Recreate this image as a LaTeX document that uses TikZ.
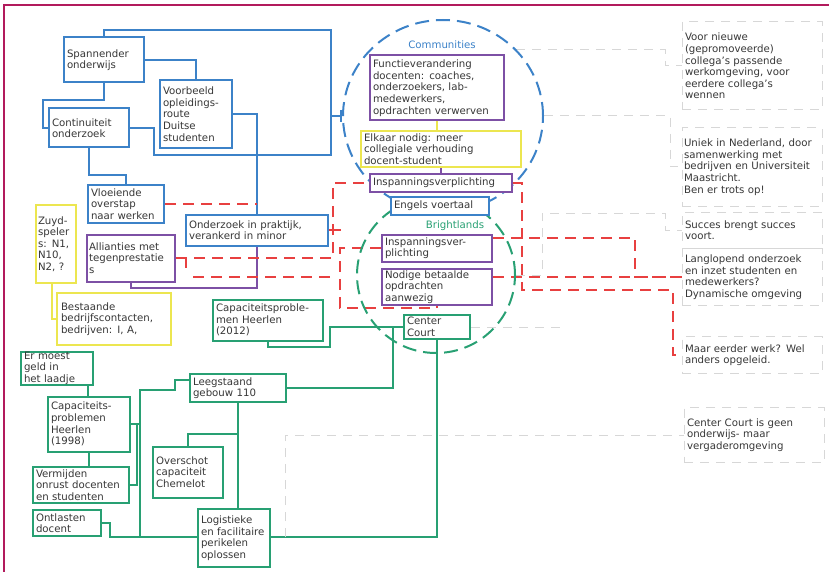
\documentclass[tikz,border=0pt]{standalone}
\usepackage{fontspec}
\setmainfont{DejaVu Sans}
\usetikzlibrary{shapes.geometric,arrows.meta,backgrounds}
\definecolor{cblue}{RGB}{60,130,200}
\definecolor{cpurp}{RGB}{125,80,165}
\definecolor{cyel}{RGB}{236,230,80}
\definecolor{cgreen}{RGB}{40,160,115}
\definecolor{cred}{RGB}{232,64,64}
\definecolor{cgrey}{RGB}{215,215,215}
\definecolor{cframe}{RGB}{178,26,92}
\definecolor{ctext}{RGB}{55,55,55}
\begin{document}
\begin{tikzpicture}[x=1pt,y=-1pt,font=\fontsize{10.2}{11.6}\selectfont,
  box/.style={rectangle,line width=2pt,fill=white,align=left,inner xsep=3pt,inner ysep=1pt,text=ctext},
  bb/.style={box,draw=cblue},
  pb/.style={box,draw=cpurp},
  yb/.style={box,draw=cyel},
  gb/.style={box,draw=cgreen},
  rb/.style={box,draw=cgrey,line width=1pt,dash pattern=on 9pt off 7pt},
  bl/.style={draw=cblue,line width=2pt},
  pl/.style={draw=cpurp,line width=2pt},
  yl/.style={draw=cyel,line width=2pt},
  gr/.style={draw=cgreen,line width=2pt},
  rd/.style={draw=cred,line width=2pt,dash pattern=on 11pt off 7pt},
  rs/.style={draw=cred,line width=2pt},
  gd/.style={draw=cgrey,line width=1pt,dash pattern=on 9pt off 7pt},
  ell/.style={ellipse,line width=2pt,dash pattern=on 14pt off 7pt}]
\useasboundingbox (0,0) rectangle (829,572);
% frame
\draw[cframe,line width=2.5pt] (829,5) -- (4,5) -- (4,572);
% ellipses
\node[ell,draw=cblue,minimum width=200pt,minimum height=192pt] (comm) at (443,116) {};
\node[ell,draw=cgreen,minimum width=158pt,minimum height=156pt] (bright) at (436,275) {};
\node[text=cblue] (lcomm) at (442,45) {Communities};
\node[text=cgreen] (lbright) at (455,226) {Brightlands};
% blue boxes
\node[bb,minimum width=80pt,minimum height=45pt,text width=74pt] (span) at (104,60) {Spannender\\onderwijs};
\node[bb,minimum width=72pt,minimum height=68pt,text width=66pt] (voor) at (196,114) {Voorbeeld\\opleidings-\\route\\Duitse\\studenten};
\node[bb,minimum width=80pt,minimum height=39pt,text width=74pt] (cont) at (89,128) {Continuiteit\\onderzoek};
\node[bb,minimum width=76pt,minimum height=38pt,text width=70pt] (vloe) at (126,204) {Vloeiende\\overstap\\naar werken};
\node[bb,minimum width=142pt,minimum height=31pt,text width=136pt] (ond) at (257,230) {Onderzoek in praktijk,\\verankerd in minor};
\node[bb,minimum width=98pt,minimum height=18pt,text width=92pt] (engels) at (440,206) {Engels voertaal};
% purple boxes
\node[pb,inner xsep=2pt,minimum width=88pt,minimum height=47pt,text width=84pt] (alli) at (131,258) {Allianties met\\tegenprestatie\\s};
\node[pb,minimum width=134pt,minimum height=65pt,text width=128pt] (func) at (437,88) {Functieverandering\\docenten: coaches,\\onderzoekers, lab-\\medewerkers,\\opdrachten verwerven};
\node[pb,minimum width=142pt,minimum height=17pt,text width=136pt] (insp1) at (441,183) {Inspanningsverplichting};
\node[pb,minimum width=110pt,minimum height=27pt,text width=104pt] (insp2) at (437,248) {Inspanningsver-\\plichting};
\node[pb,minimum width=110pt,minimum height=36pt,text width=104pt] (nod) at (437,287) {Nodige betaalde\\opdrachten\\aanwezig};
% yellow boxes
\node[yb,inner xsep=2pt,minimum width=40pt,minimum height=78pt,text width=36pt] (zuyd) at (56,244) {Zuyd-\\speler\\s: N1,\\N10,\\N2, ?};
\node[yb,inner xsep=4pt,minimum width=114pt,minimum height=52pt,text width=106pt] (best) at (114,319) {Bestaande\\bedrijfscontacten,\\bedrijven: I, A,};
\node[yb,minimum width=160pt,minimum height=36pt,text width=154pt] (elk) at (441,149) {Elkaar nodig: meer\\collegiale verhouding\\docent-student};
% green boxes
\node[gb,minimum width=110pt,minimum height=41pt,text width=104pt] (cap12) at (268,320) {Capaciteitsproble-\\men Heerlen\\(2012)};
\node[gb,inner ysep=0.5pt,minimum width=66pt,minimum height=24pt,text width=60pt] (cc) at (437,327) {Center\\Court};
\node[gb,inner ysep=0pt,minimum width=72pt,minimum height=33pt,text width=66pt] (geld) at (57,368) {Er moest\\geld in\\het laadje};
\node[gb,minimum width=82pt,minimum height=55pt,text width=76pt] (c98) at (89,424) {Capaciteits-\\problemen\\Heerlen\\(1998)};
\node[gb,minimum width=96pt,minimum height=36pt,text width=90pt] (verm) at (81,485) {Vermijden\\onrust docenten\\en studenten};
\node[gb,minimum width=96pt,minimum height=28pt,text width=90pt] (leeg) at (238,388) {Leegstaand\\gebouw 110};
\node[gb,minimum width=70pt,minimum height=51pt,text width=64pt] (over) at (188,472) {Overschot\\capaciteit\\Chemelot};
\node[gb,minimum width=68pt,minimum height=26pt,text width=62pt] (ontl) at (67,523) {Ontlasten\\docent};
\node[gb,minimum width=72pt,minimum height=58pt,text width=66pt] (logi) at (234,538) {Logistieke\\en facilitaire\\perikelen\\oplossen};
% right grey boxes
\node[rb,minimum width=140pt,minimum height=88pt,text width=134pt] (rA) at (752,66) {Voor nieuwe\\(gepromoveerde)\\collega's passende\\werkomgeving, voor\\eerdere collega's\\wennen};
\node[rb,inner xsep=2pt,minimum width=140pt,minimum height=78pt,text width=136pt] (rB) at (752,167) {Uniek in Nederland, door\\samenwerking met\\bedrijven en Universiteit\\Maastricht.\\Ben er trots op!};
\node[rb,minimum width=140pt,minimum height=36pt,text width=134pt] (rC) at (752,230) {Succes brengt succes\\voort.};
\node[rb,minimum width=140pt,minimum height=57pt,text width=134pt] (rD) at (752,277) {Langlopend onderzoek\\en inzet studenten en\\medewerkers?\\Dynamische omgeving};
\node[rb,minimum width=140pt,minimum height=37pt,text width=134pt] (rE) at (752,355) {Maar eerder werk? Wel\\anders opgeleid.};
\node[rb,minimum width=140pt,minimum height=55pt,text width=134pt] (rF) at (754,435) {Center Court is geen\\onderwijs- maar\\vergaderomgeving};
% junction coordinates
\coordinate (jbar) at (331,116);
\coordinate (jv) at (257,204);
\coordinate (jr) at (193,277);
\coordinate (jre) at (336,277);
\coordinate (jg) at (140,424);
\coordinate (jgb) at (140,537);
\coordinate (jx) at (285,537);
\coordinate (g1) at (516,50);
\coordinate (g4) at (560,327);
\begin{scope}[on background layer]
% blue
\draw[bl] (span.south) |- (43,100) |- (cont.west);
\draw[bl] (span.east) -| (voor.north);
\draw[bl] (cont.east) -| (154,155) -| (331,30) -| (span.north);
\draw[bl,-{Bar[width=12pt]}] (jbar) -- (comm.west);
\draw[bl] (voor.east) -| (ond.north);
\draw[pl] (alli.south) -- ++(0,5) -| (ond.south);
\draw[bl] (cont.south) -- ++(0,27) -| (vloe.north);
% yellow / purple small
\draw[yl] (func.south) -- (func.south |- elk.north);
\draw[yl] ([xshift=-4pt]zuyd.south) |- (best.west);
\draw[pl] (elk.south) -- (elk.south |- insp1.north);
% red
\draw[rd] (vloe.east) -- (jv);
\draw[rd] (alli.east) -| (333,183) -- (insp1.west);
\draw[rs] (186,258) -- (186,268);
\draw[rs] (ond.east) -- (341,230);
\draw[rd] (jr) -- (jre);
\draw[rd] (insp2.west) -| (340,308) -| (nod.south);
\draw[rd] (insp1.east) -| (522,290) -| (673,355) -- (rE.west);
\draw[rd] ([yshift=10pt]insp2.east) -| (635,277) -- (rD.west);
\draw[rd] ([yshift=10pt]nod.east) -- ([yshift=10pt]nod.east -| rD.west);
% green
\draw[gr] (cap12.south) -- ++(0,5) -| (330,327) -- (cc.west);
\draw[gr] (leeg.east) -| (393,327);
\draw[gr] (ontl.east) -| (110,537) -| (cc.south);
\draw[gr] ([xshift=31pt]geld.south) -- ([xshift=31pt]geld.south |- c98.north);
\draw[gr] (c98.south) -- (c98.south |- verm.north);
\draw[gr] (c98.east) -- (jg);
\draw[gr] (verm.east) -| (137,424);
\draw[gr] (jg) -- (jgb);
\draw[gr] (jg) |- (175,390) |- ([yshift=8pt]leeg.west);
\draw[gr] (leeg.south) -- (leeg.south |- logi.north);
\draw[gr] (over.north) -- ++(0,-12) -| (leeg.south);
% grey
\draw[gd] (g1) -- (665,50) |- (rA.west);
\draw[gd] (comm.east) -- (670,116) |- (rB.west);
\draw[gd] (bright.east) -| (542,213) -- (665,213) |- (rC.west);
\draw[gd] (cc.east) -- (g4);
\draw[gd] (jx) |- (rF.west);
\end{scope}
\end{tikzpicture}
\end{document}
